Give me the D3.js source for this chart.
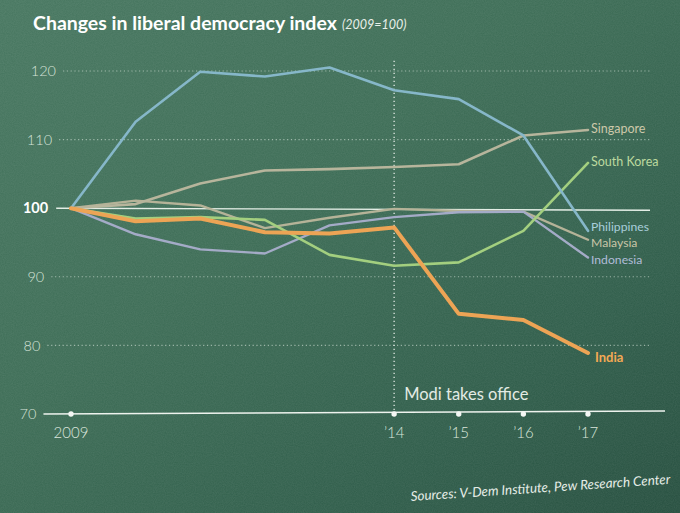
<!DOCTYPE html>
<html>
<head>
<meta charset="utf-8">
<script src="https://cdn.jsdelivr.net/npm/d3@7"></script>
<style>
  html, body { margin: 0; padding: 0; background: #3a6a53; }
  svg { display: block; }
</style>
</head>
<body>
<svg id="chart" width="680" height="513"></svg>
<script>
// ---------- DATA ----------
const years = [2009, 2010, 2011, 2012, 2013, 2014, 2015, 2016, 2017];
const philippines = [100, 112.6, 119.9, 119.2, 120.5, 117.2, 115.9, 110.6, 96.7];
const singapore   = [100, 100.6, 103.6, 105.5, 105.7, 106.0, 106.4, 110.6, 111.4];
const malaysia    = [100, 101.1, 100.4, 97.1, 98.6, 99.9, 99.6, 99.5, 95.4];
const indonesia   = [100, 96.2, 94.0, 93.4, 97.5, 98.7, 99.4, 99.5, 92.8];
const southKorea  = [100, 98.5, 98.7, 98.3, 93.2, 91.6, 92.1, 96.7, 106.6];
const india       = [100, 98.1, 98.5, 96.5, 96.3, 97.2, 84.6, 83.7, 78.9];
const seriesNames = ["Malaysia", "Indonesia", "Singapore", "South Korea", "Philippines", "India"];
const seriesValues = [malaysia, indonesia, singapore, southKorea, philippines, india];
const yTicks = [120, 110, 100, 90, 80, 70];
const xTickYears = [2009, 2014, 2015, 2016, 2017];
const xTickLabels = ["2009", "\u201914", "\u201915", "\u201916", "\u201917"];
const baseline = 100;
const eventYear = 2014;
const eventLabel = "Modi takes office";
const titleText = "Changes in liberal democracy index";
const subtitleText = "(2009=100)";
const sourceText = "Sources: V-Dem Institute, Pew Research Center";

// ---------- STYLE ----------
const styles = {
  "Philippines": { stroke: "#86b7c9", width: 2.6, label: "#a9cedb", dy: 0.5, size: 12.2, weight: 400 },
  "Singapore":   { stroke: "#b7b59c", width: 2.6, label: "#cdc8aa", dy: 3,   size: 12.5, weight: 400 },
  "Malaysia":    { stroke: "#b5b398", width: 2.4, label: "#c9c5a8", dy: 7.5, size: 12.2, weight: 400 },
  "Indonesia":   { stroke: "#a4abc7", width: 2.4, label: "#b1bcd8", dy: 6,   size: 12.2, weight: 400 },
  "South Korea": { stroke: "#a3cf7f", width: 2.6, label: "#bcd99f", dy: 3.5, size: 12.5, weight: 400 },
  "India":       { stroke: "#eda455", width: 4,   label: "#f2a954", dy: 9,   size: 13,   weight: 700 }
};
const FONT = "Lato, 'Open Sans', 'DejaVu Sans', sans-serif";

const svg = d3.select("#chart");
const W = 680, H = 513;

// background
const defs = svg.append("defs");
const bg = defs.append("linearGradient").attr("id", "bg")
  .attr("x1", "0%").attr("y1", "0%").attr("x2", "100%").attr("y2", "100%");
bg.append("stop").attr("offset", "0%").attr("stop-color", "#477760");
bg.append("stop").attr("offset", "40%").attr("stop-color", "#3d6d56");
bg.append("stop").attr("offset", "75%").attr("stop-color", "#2f5d4a");
bg.append("stop").attr("offset", "100%").attr("stop-color", "#264f3f");
const noise = defs.append("filter").attr("id", "noise");
noise.append("feTurbulence").attr("type", "fractalNoise").attr("baseFrequency", 0.9)
  .attr("numOctaves", 2).attr("seed", 3);
noise.append("feColorMatrix").attr("type", "matrix")
  .attr("values", "0 0 0 0 1  0 0 0 0 1  0 0 0 0 1  0 0 0 0.18 0");
svg.append("rect").attr("width", W).attr("height", H).attr("fill", "url(#bg)");
svg.append("rect").attr("width", W).attr("height", H).attr("filter", "url(#noise)").attr("opacity", 0.5);

// scales
const x = d3.scaleLinear().domain([2009, 2017]).range([71, 588]);
const y = d3.scaleLinear().domain([70, 120]).range([414, 71]);
const labelRight = yy => 56 - (yy - 71) * 0.057;
const gridRight = 650;

// title
const title = svg.append("text").attr("x", 33).attr("y", 30)
  .attr("fill", "#ffffff").attr("font-family", FONT).attr("font-weight", 700)
  .attr("font-size", 18).text(titleText);
const tw = title.node().getComputedTextLength();
title.attr("font-size", 18 * 304 / tw);
svg.append("text").attr("x", 342).attr("y", 29)
  .attr("fill", "#e8efe9").attr("font-family", FONT).attr("font-style", "italic")
  .attr("font-size", 12.5).text(subtitleText);

// gridlines + y labels
const grid = svg.append("g");
yTicks.forEach(v => {
  const yy = y(v);
  const lr = labelRight(yy);
  const isBase = v === baseline;
  const isAxis = v === yTicks[yTicks.length - 1];
  grid.append("text").attr("x", lr).attr("y", yy).attr("dy", "0.36em")
    .attr("text-anchor", "end").attr("font-family", FONT)
    .attr("font-size", 14.5).attr("font-weight", isBase ? 700 : 300)
    .attr("fill", isBase ? "#ffffff" : "#d6e2d8").text(v);
  if (!isBase && !isAxis) {
    grid.append("line").attr("x1", lr + 7).attr("x2", gridRight)
      .attr("y1", yy).attr("y2", yy)
      .attr("stroke", "#d8e6dc").attr("stroke-opacity", 0.6)
      .attr("stroke-width", 1.1).attr("stroke-dasharray", "1.2,2.6");
  }
});

// event vertical line
svg.append("line").attr("x1", x(eventYear)).attr("x2", x(eventYear))
  .attr("y1", y(121.5)).attr("y2", y(70))
  .attr("stroke", "#f2f6f2").attr("stroke-opacity", 0.85)
  .attr("stroke-width", 1.4).attr("stroke-dasharray", "1.4,2.6");
svg.append("text").attr("x", x(eventYear) + 10).attr("y", 400)
  .attr("fill", "#e3ebe4").attr("font-family", FONT).attr("font-size", 16.5)
  .attr("font-weight", 400).text(eventLabel);

// baseline 100 line
svg.append("line").attr("x1", labelRight(y(baseline)) + 8).attr("x2", gridRight)
  .attr("y1", y(baseline)).attr("y2", y(baseline) + 2)
  .attr("stroke", "#e4eee6").attr("stroke-width", 1.4);

// x axis
const axisY = y(70);
svg.append("line").attr("x1", labelRight(axisY) + 7).attr("x2", 665)
  .attr("y1", axisY).attr("y2", axisY - 3)
  .attr("stroke", "#eef3ee").attr("stroke-width", 1.6);
xTickYears.forEach((yr, i) => {
  svg.append("circle").attr("cx", x(yr)).attr("cy", axisY).attr("r", 2.7)
    .attr("fill", "#f4f7f4");
  svg.append("text").attr("x", x(yr)).attr("y", axisY + 24)
    .attr("text-anchor", "middle").attr("fill", "#dbe5dc")
    .attr("font-family", FONT).attr("font-size", 15).attr("font-weight", 300)
    .text(xTickLabels[i]);
});

// series lines
const line = d3.line().x((d, i) => x(years[i])).y(d => y(d));
const gSeries = svg.append("g");
seriesNames.forEach((name, k) => {
  const st = styles[name];
  const vals = seriesValues[k];
  gSeries.append("path").attr("d", line(vals))
    .attr("fill", "none").attr("stroke", st.stroke)
    .attr("stroke-width", st.width).attr("stroke-linejoin", "round")
    .attr("stroke-linecap", "round");
  const last = vals[vals.length - 1];
  gSeries.append("text").attr("x", x(years[years.length - 1]) + (name === "India" ? 7 : 3))
    .attr("y", y(last) + st.dy)
    .attr("fill", st.label).attr("font-family", FONT)
    .attr("font-size", st.size).attr("font-weight", st.weight)
    .text(name);
});

// source
svg.append("text").attr("transform", "translate(411,501) rotate(-3.8)")
  .attr("fill", "#e6ede7").attr("font-family", FONT).attr("font-style", "italic")
  .attr("font-size", 13.4).text(sourceText);
</script>
</body>
</html>
